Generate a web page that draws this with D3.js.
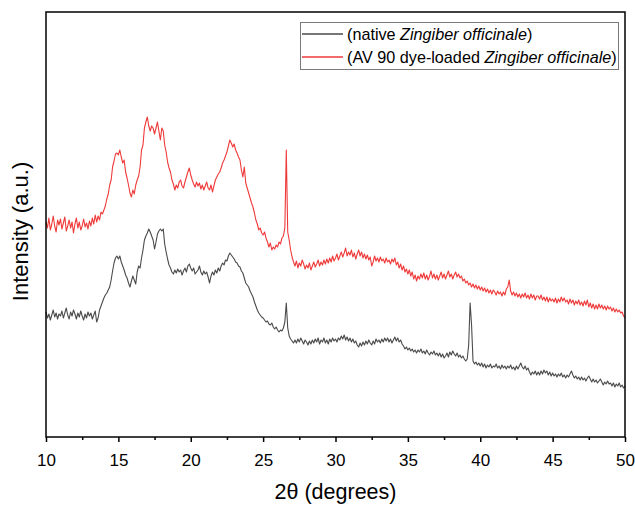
<!DOCTYPE html>
<html>
<head>
<meta charset="utf-8">
<script src="https://cdn.jsdelivr.net/npm/d3@7/dist/d3.min.js"></script>
<style>
  html, body { margin: 0; padding: 0; background: #fff; }
  svg { display: block; font-family: "Liberation Sans", Arial, sans-serif; }
</style>
</head>
<body>
<svg id="chart" width="635" height="505"></svg>
<script>
// XRD patterns, 2θ from 10° to 50° sampled every 0.1°
const thetaStart = 10;
const thetaStep = 0.1;

// AV 90 dye-loaded Zingiber officinale (a.u.)
const loadedIntensity = [
  215,209,219,207,213,221,211,205,217,212,
  218,208,214,220,206,211,217,209,215,204,
  213,219,209,215,207,211,218,210,214,208,
  216,211,219,213,222,215,221,217,225,223,
  227,231,238,243,252,257,270,276,283,284,
  282,287,280,274,277,265,259,252,244,240,
  247,243,252,257,261,270,287,292,309,315,
  320,311,306,311,309,303,309,315,306,297,
  309,306,292,285,275,269,265,257,253,247,
  252,249,255,257,251,249,255,260,265,269,
  262,257,253,250,255,251,254,248,252,247,
  251,255,249,247,252,245,251,257,260,263,
  265,269,274,277,281,285,291,297,294,290,
  293,287,284,280,277,267,260,270,254,249,
  244,239,234,230,224,217,213,207,209,204,
  202,205,199,195,190,194,187,190,188,192,
  190,195,193,199,201,209,287,205,197,187,
  180,175,171,176,169,174,171,177,173,168,
  172,169,174,167,171,175,170,173,177,171,
  175,172,177,173,178,174,179,175,181,176,
  179,183,177,181,185,180,184,189,181,185,
  182,187,180,184,178,183,187,181,185,179,
  183,178,182,177,180,171,175,181,176,179,
  175,180,176,178,174,179,175,177,173,178,
  175,179,172,175,169,173,167,171,165,168,
  163,167,161,165,158,162,156,161,158,163,
  159,164,158,162,157,161,166,159,163,158,
  162,157,161,165,159,163,158,162,166,160,
  163,158,162,165,160,163,159,161,156,158,
  154,156,152,154,150,153,149,152,148,151,
  147,150,146,149,145,148,144,147,143,147,
  145,142,146,143,145,141,145,142,148,150,
  157,146,142,145,141,144,140,143,139,143,
  140,144,139,142,138,143,139,142,137,141,
  141,138,142,137,140,136,140,135,139,136,
  138,135,139,134,138,135,140,136,139,135,
  137,133,138,134,137,132,136,133,137,132,
  135,131,136,132,137,130,134,129,133,128,
  132,128,133,129,132,128,131,127,131,128,
  130,126,129,125,128,125,127,124,125,121,
  119
];

// native Zingiber officinale (a.u.)
const nativeIntensity = [
  125,119,123,117,122,127,120,124,118,123,
  121,126,119,124,129,122,118,125,121,127,
  123,118,124,120,126,121,117,123,119,125,
  121,124,118,122,126,115,119,127,131,135,
  139,142,144,147,150,157,166,174,179,181,
  178,181,175,171,167,162,159,154,150,156,
  161,157,153,165,171,169,179,187,197,201,
  204,208,205,201,197,188,195,203,206,208,
  206,208,193,185,178,172,169,165,163,167,
  164,168,165,167,162,166,169,165,171,173,
  169,166,169,163,165,167,171,165,162,166,
  163,165,160,154,161,165,162,167,164,169,
  166,171,174,172,177,176,181,184,182,180,
  178,175,174,171,170,166,164,159,154,152,
  150,146,143,140,135,131,127,124,122,120,
  119,117,115,116,113,112,114,110,108,110,
  107,105,107,106,109,115,134,109,101,98,
  96,94,97,94,98,95,99,96,93,97,
  95,92,96,93,97,94,98,95,99,93,
  97,95,99,94,97,93,98,95,99,96,
  98,95,99,97,101,98,102,97,100,96,
  99,95,98,94,96,92,90,94,91,95,
  92,96,93,97,94,92,96,93,98,95,
  97,94,98,95,99,96,99,95,98,94,
  97,100,96,99,95,97,93,91,88,90,
  87,89,86,88,85,87,84,87,85,88,
  84,86,83,87,84,82,85,83,86,82,
  84,81,84,80,83,79,81,84,80,85,
  82,86,83,81,84,80,82,79,81,78,
  76,78,92,134,112,76,73,75,72,74,
  71,74,70,73,69,72,70,73,69,71,
  70,73,69,71,68,72,69,71,68,71,
  69,72,68,70,67,71,68,71,74,70,
  68,71,67,69,65,62,65,63,66,62,
  65,62,66,63,67,64,66,62,65,61,
  64,61,63,60,63,61,64,60,62,59,
  62,60,63,66,62,59,61,58,60,57,
  60,57,59,56,59,61,58,55,58,55,
  57,54,56,58,55,52,55,53,56,53,
  54,51,54,50,53,51,54,50,52,49,
  51
];

const xMajorTicks = [10, 15, 20, 25, 30, 35, 40, 45, 50];
const xMinorTicks = [12.5, 17.5, 22.5, 27.5, 32.5, 37.5, 42.5, 47.5];
const xDomain = [10, 50];
const yDomain = [0, 425];

const seriesNames = ["native", "loaded"];
const seriesColors = ["#4a4a4a", "#ef3a3a"];

const margin = { left: 46, right: 10, top: 12, bottom: 68 };
const width = 635, height = 505;
const svg = d3.select("#chart");

const x = d3.scaleLinear().domain(xDomain).range([margin.left, width - margin.right]);
const y = d3.scaleLinear().domain(yDomain).range([height - margin.bottom, margin.top]);

const toPoints = arr => arr.map((v, i) => [thetaStart + i * thetaStep, v]);
const series = [
  { name: seriesNames[0], color: seriesColors[0], points: toPoints(nativeIntensity) },
  { name: seriesNames[1], color: seriesColors[1], points: toPoints(loadedIntensity) }
];

const line = d3.line().x(d => x(d[0])).y(d => y(d[1]));

// traces
svg.append("g")
  .selectAll("path")
  .data(series)
  .join("path")
  .attr("d", d => line(d.points))
  .attr("fill", "none")
  .attr("stroke", d => d.color)
  .attr("stroke-width", 1.1)
  .attr("stroke-linejoin", "round");

// frame
svg.append("rect")
  .attr("x", x(xDomain[0]))
  .attr("y", y(yDomain[1]))
  .attr("width", x(xDomain[1]) - x(xDomain[0]))
  .attr("height", y(yDomain[0]) - y(yDomain[1]))
  .attr("fill", "none")
  .attr("stroke", "#000")
  .attr("stroke-width", 1.5);

// bottom axis: major ticks with labels
const xAxisMajor = svg.append("g")
  .attr("transform", `translate(0,${y(yDomain[0])})`)
  .call(d3.axisBottom(x).tickValues(xMajorTicks).tickSize(5).tickSizeOuter(0).tickFormat(d3.format("d")));
xAxisMajor.select(".domain").remove();
xAxisMajor.selectAll(".tick line").attr("stroke", "#000").attr("stroke-width", 1.5);
xAxisMajor.selectAll(".tick text")
  .attr("fill", "#000")
  .attr("font-size", 17)
  .attr("font-family", "'Liberation Sans', Arial, sans-serif")
  .attr("y", 17);

// bottom axis: minor ticks
const xAxisMinor = svg.append("g")
  .attr("transform", `translate(0,${y(yDomain[0])})`)
  .call(d3.axisBottom(x).tickValues(xMinorTicks).tickSize(3).tickSizeOuter(0).tickFormat(""));
xAxisMinor.select(".domain").remove();
xAxisMinor.selectAll(".tick line").attr("stroke", "#000").attr("stroke-width", 1.5);

// axis titles
svg.append("text")
  .attr("x", (x(xDomain[0]) + x(xDomain[1])) / 2)
  .attr("y", 499)
  .attr("text-anchor", "middle")
  .attr("font-size", 21.5)
  .attr("fill", "#000")
  .text("2θ (degrees)");

svg.append("text")
  .attr("transform", "translate(28,231.5) rotate(-90)")
  .attr("text-anchor", "middle")
  .attr("font-size", 22)
  .attr("fill", "#000")
  .text("Intensity (a.u.)");

// legend
const legend = svg.append("g");
legend.append("rect")
  .attr("x", 300.5).attr("y", 22.5)
  .attr("width", 318).attr("height", 47)
  .attr("fill", "#fff")
  .attr("stroke", "#7a7a7a")
  .attr("stroke-width", 1);

const legendItems = [
  { color: seriesColors[0], parts: [["(native ", false], ["Zingiber officinale", true], [")", false]] },
  { color: seriesColors[1], parts: [["(AV 90 dye-loaded ", false], ["Zingiber officinale", true], [")", false]] }
];

legendItems.forEach((item, i) => {
  const cy = 34 + i * 23;
  legend.append("line")
    .attr("x1", 302).attr("x2", 343)
    .attr("y1", cy).attr("y2", cy)
    .attr("stroke", item.color)
    .attr("stroke-width", 1.5);
  const t = legend.append("text")
    .attr("x", 347).attr("y", cy + 6)
    .attr("font-size", 16.2)
    .attr("fill", "#000");
  item.parts.forEach(([txt, it]) => {
    t.append("tspan").attr("font-style", it ? "italic" : "normal").text(txt);
  });
});
</script>
</body>
</html>
